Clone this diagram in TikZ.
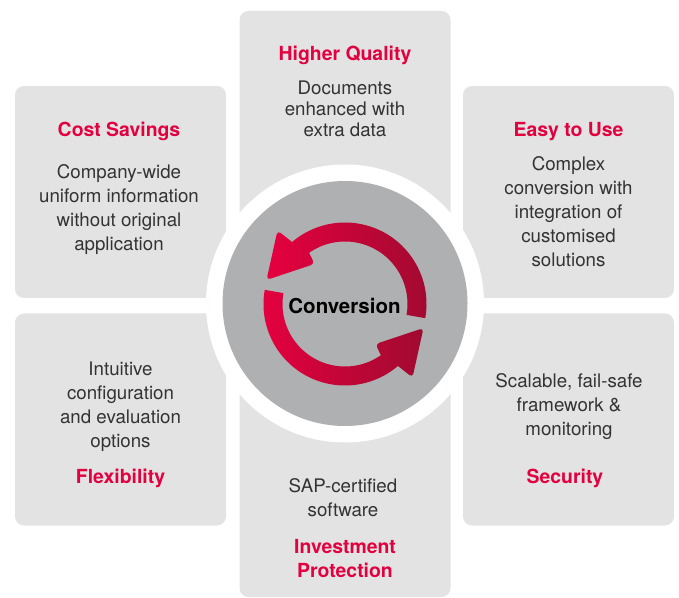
\documentclass[tikz,border=0pt]{standalone}
\usepackage{fontspec}
\setmainfont{TeX Gyre Heros}
\definecolor{boxgray}{HTML}{E3E3E3}
\definecolor{hubgray}{HTML}{AFB0B2}
\definecolor{brand}{HTML}{E2003F}
\definecolor{bodytext}{HTML}{333333}
\definecolor{arrowlight}{HTML}{E6003F}
\definecolor{arrowdark}{HTML}{A00A30}
\tikzset{
  x=1pt,y=1pt,
  panel/.style={draw=none,fill=boxgray,rounded corners=9pt,minimum width=211pt,minimum height=212pt,inner sep=0pt,outer sep=0pt},
  headline/.style={font=\fontsize{19.4}{24}\selectfont\bfseries,text=brand,align=center,inner sep=0pt},
  bodycopy/.style={font=\fontsize{18.7}{24}\selectfont,text=bodytext,align=center,inner sep=0pt},
  turnarrow/.style={shading=axis,left color=arrowlight,right color=arrowdark,shading angle=90,draw=none}
}
\begin{document}
\begin{tikzpicture}
\useasboundingbox (0,0) rectangle (679,597);
\fill[white] (0,0) rectangle (679,597);
% panels
\node[panel] (boxCost) at (120.5,405) {};
\node[panel] (boxFlex) at (120.5,177.5) {};
\node[panel] (boxEasy) at (568.5,405) {};
\node[panel] (boxSec) at (568.5,177.5) {};
\node[panel] (boxQual) at (345,480) {};
\node[panel] (boxInv) at (345,106) {};
% hub
\node[circle,fill=white,minimum size=278pt,inner sep=0pt] (hubRing) at (345,293.5) {};
\node[circle,fill=hubgray,minimum size=245pt,inner sep=0pt] (hub) at (345,293.5) {};
% arrows
\begin{scope}[shift={(345,293)}]
\path[turnarrow] (-10:81.5) arc[start angle=-10,end angle=130.5,radius=81.5]
  [rounded corners=4pt] -- (-67.5,73.5) -- (-78.5,24) -- (-30.5,40) [sharp corners] -- (125:62.5)
  arc[start angle=125,end angle=-10,radius=62.5] -- cycle;
\path[turnarrow] (170:81.5) arc[start angle=170,end angle=310.5,radius=81.5]
  [rounded corners=4pt] -- (67.5,-73.5) -- (78.5,-24) -- (30.5,-40) [sharp corners] -- (305:62.5)
  arc[start angle=305,end angle=170,radius=62.5] -- cycle;
\end{scope}
\node[font=\fontsize{20.5}{24}\selectfont\bfseries,text=black,inner sep=0pt] (conv) at (344.5,291.5) {Conversion};
% text
\node[headline] (tCost) at (119,466) {Cost Savings};
\node[bodycopy] (bCost) at (119,387) {Company-wide\\uniform information\\without original\\application};
\node[headline] (tQual) at (345,542) {Higher Quality};
\node[bodycopy,font=\fontsize{18.7}{21}\selectfont] (bQual) at (345,488) {Documents\\enhanced with\\extra data};
\node[headline] (tEasy) at (568.5,465) {Easy to Use};
\node[bodycopy] (bEasy) at (568.5,385) {Complex\\conversion with\\integration of\\customised\\solutions};
\node[bodycopy] (bFlex) at (120.5,190.5) {Intuitive\\configuration\\and evaluation\\options};
\node[headline] (tFlex) at (120.5,118.5) {Flexibility};
\node[bodycopy] (bSec) at (569,190) {Scalable, fail-safe\\framework \&\\monitoring};
\node[headline] (tSec) at (565,118.5) {Security};
\node[bodycopy] (bInv) at (343,99) {SAP-certified\\software};
\node[headline] (tInv) at (345,38) {Investment\\Protection};
\end{tikzpicture}
\end{document}
